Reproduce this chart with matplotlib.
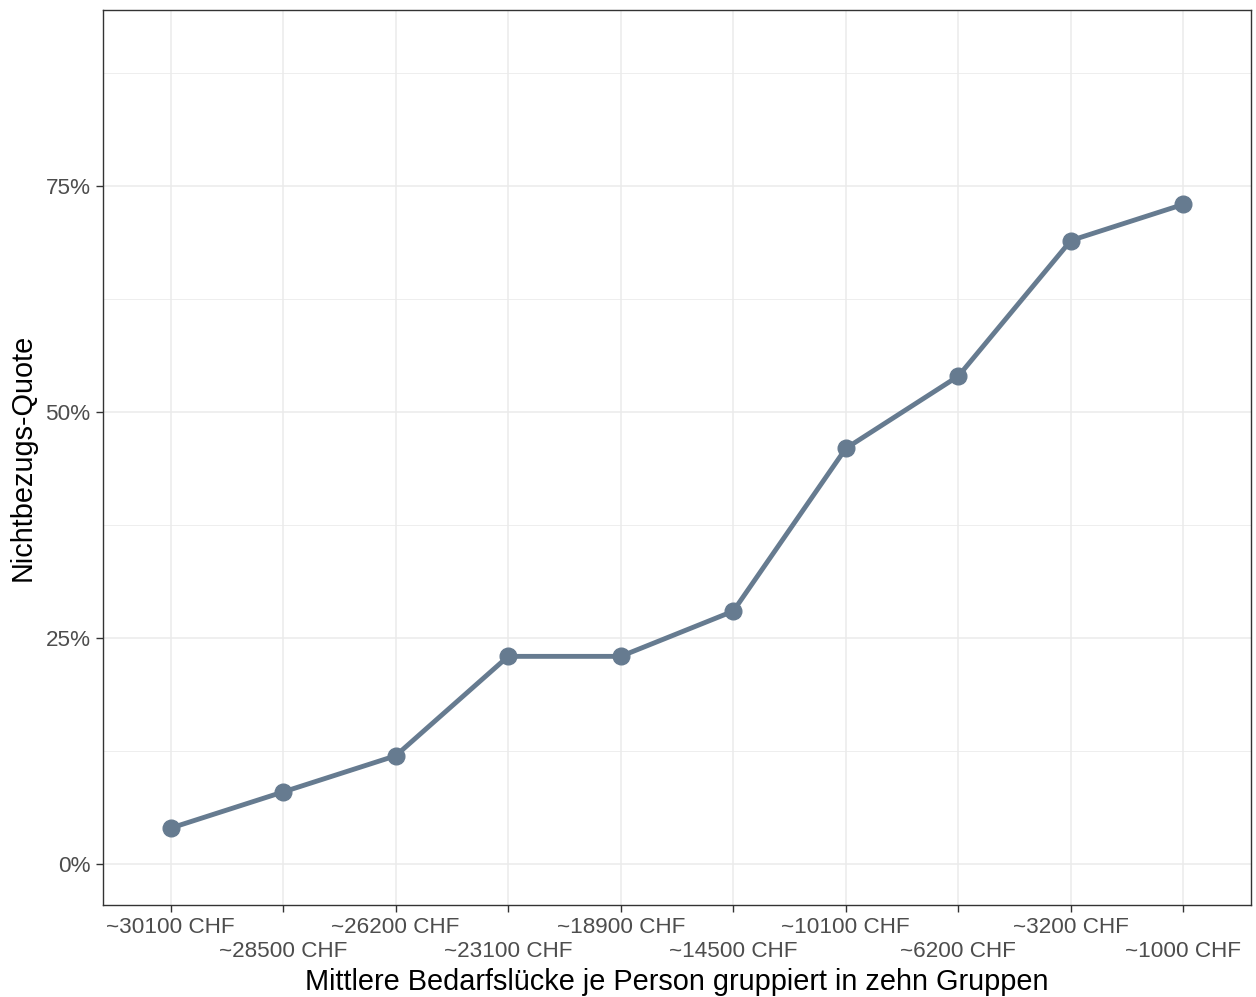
import matplotlib.pyplot as plt
from matplotlib.ticker import FixedLocator, PercentFormatter

# Daten
gruppen = ["~30100 CHF", "~28500 CHF", "~26200 CHF", "~23100 CHF", "~18900 CHF",
           "~14500 CHF", "~10100 CHF", "~6200 CHF", "~3200 CHF", "~1000 CHF"]
quote = [4, 8, 12, 23, 23, 28, 46, 54, 69, 73]

plt.rcParams["font.family"] = ["Liberation Sans", "DejaVu Sans"]

fig = plt.figure(figsize=(12.56, 9.97), dpi=100)
ax = fig.add_axes([0.082, 0.0923, 0.914, 0.8977])

x = list(range(len(gruppen)))
ax.plot(x, quote, color="#667b90", lw=3.5, marker="o", ms=12, zorder=3,
        solid_capstyle="round")

# ggplot-artige Achsen
n = len(gruppen)
ax.set_xlim(-0.6, n - 1 + 0.6)
ax.set_ylim(0 - 4.5, 90 + 4.5)

# abwechselnd versetzte Beschriftungen (n.dodge = 2)
ax.set_xticks(x)
ax.set_xticklabels([g if i % 2 == 0 else "" for i, g in enumerate(gruppen)])
sec = ax.secondary_xaxis("bottom")
sec.set_xticks(x[1::2])
sec.set_xticklabels(gruppen[1::2])
sec.spines["bottom"].set_visible(False)
sec.tick_params(length=0, labelsize=16.2, labelcolor="#4d4d4d", pad=26)

ax.yaxis.set_major_locator(FixedLocator([0, 25, 50, 75]))
ax.yaxis.set_minor_locator(FixedLocator([12.5, 37.5, 62.5, 87.5]))
ax.yaxis.set_major_formatter(PercentFormatter(decimals=0))

ax.grid(which="major", color="#ebebeb", lw=1.1, zorder=0)
ax.grid(which="minor", axis="y", color="#ebebeb", lw=0.6, zorder=0)
ax.set_axisbelow(True)

for s in ax.spines.values():
    s.set_color("#333333")
    s.set_linewidth(1.0)

ax.tick_params(axis="both", which="major", length=5, width=1, color="#333333",
               labelcolor="#4d4d4d", labelsize=16.2, pad=4)
ax.tick_params(axis="y", which="minor", length=0)

ax.set_xlabel("Mittlere Bedarfslücke je Person gruppiert in zehn Gruppen",
              fontsize=20.8, color="black")
ax.xaxis.set_label_coords(0.5, -0.086)
ax.xaxis.label.set_va("center")
ax.set_ylabel("Nichtbezugs-Quote", fontsize=20.8, color="black", labelpad=6)

fig.savefig("out.png", dpi=100)
